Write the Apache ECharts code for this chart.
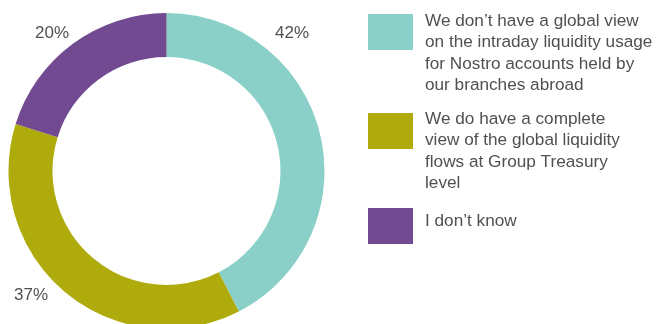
<!DOCTYPE html>
<html>
<head>
<meta charset="utf-8">
<script src="https://cdn.jsdelivr.net/npm/echarts@6/dist/echarts.min.js"></script>
<style>
html,body{margin:0;padding:0;background:#fff;}
#chart{width:656px;height:324px;}
</style>
</head>
<body>
<div id="chart"></div>
<script>
const categories = [
  "We don’t have a global view on the intraday liquidity usage for Nostro accounts held by our branches abroad",
  "We do have a complete view of the global liquidity flows at Group Treasury level",
  "I don’t know"
];
const legendLabels = [
  "We don’t have a global view\non the intraday liquidity usage\nfor Nostro accounts held by\nour branches abroad",
  "We do have a complete\nview of the global liquidity\nflows at Group Treasury\nlevel",
  "I don’t know"
];
const values = [42, 37, 20];
const colors = ["#8ad0c8", "#b0ab0c", "#714a91"];

const FONT = "'Liberation Sans', Arial, sans-serif";
const TEXT = "#505050";

const labelPos = [[292, 33.5], [31, 295], [52, 33.5]];
const legendTops = [14, 113, 208];
const textTops = [10.5, 108.5, 211];

const chart = echarts.init(document.getElementById('chart'), null, {renderer: 'canvas'});

const graphics = [];
categories.forEach((c, i) => {
  graphics.push({
    type: 'rect', left: 368, top: legendTops[i],
    shape: {width: 45, height: 36},
    style: {fill: colors[i]}, silent: true
  });
  graphics.push({
    type: 'text', left: 425, top: textTops[i],
    style: {
      text: legendLabels[i], fill: TEXT, font: "17.2px " + FONT,
      lineHeight: 21.5, verticalAlign: 'top'
    }, silent: true
  });
});

chart.setOption({
  animation: false,
  color: colors,
  graphic: graphics,
  series: [{
    type: 'pie',
    center: [166.5, 171],
    radius: [114, 158],
    startAngle: 90,
    clockwise: true,
    avoidLabelOverlap: false,
    label: {
      show: true,
      formatter: '{c}%',
      color: TEXT,
      fontFamily: FONT,
      fontSize: 17
    },
    labelLine: {show: false},
    labelLayout: function (p) {
      const pos = labelPos[p.dataIndex];
      return {x: pos[0], y: pos[1], align: 'center', verticalAlign: 'middle'};
    },
    emphasis: {disabled: true},
    data: categories.map((c, i) => ({name: c, value: values[i]}))
  }]
});
</script>
</body>
</html>
